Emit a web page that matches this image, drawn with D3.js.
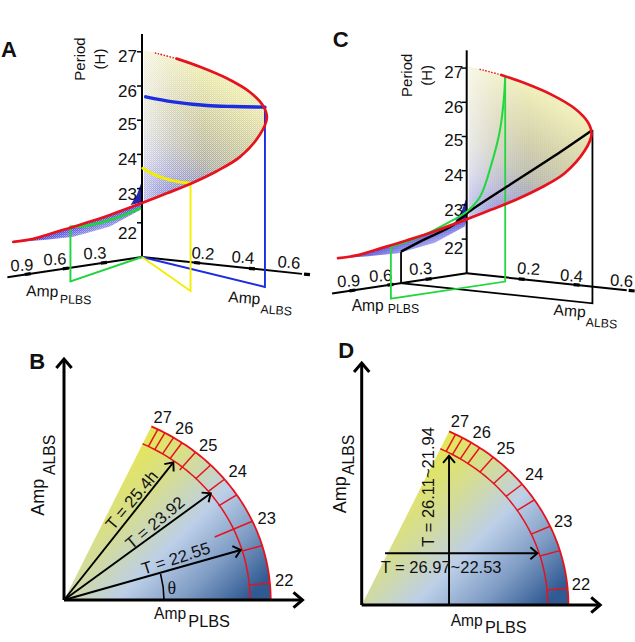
<!DOCTYPE html>
<html><head><meta charset="utf-8">
<script src="https://cdnjs.cloudflare.com/ajax/libs/d3/7.8.5/d3.min.js"></script>
<style>html,body{margin:0;padding:0;background:#fff}svg{display:block}text{font-family:"Liberation Sans",Arial,sans-serif;fill:#111}</style>
</head><body><script>
// ---------- data ----------
const periodTicks=[22,23,24,25,26,27];
const albsTicks=[0.2,0.4,0.6];
const plbsTicks=[0.3,0.6,0.9];
// red limit cycle edge of the surface
const redPlbs=[1.05,1.04,1.02,1.0,.98,.95,.92,.89,.82,.74,.65,.55,.50,.42,.32,.22,.13,.06,.03];
const redAlbs=[.017,.085,.161,.248,.336,.439,.515,.592,.650,.698,.729,.708,.672,.587,.456,.312,.186,.087,.055];
const redPeriod=[22.04,22.18,22.44,22.74,23.06,23.48,23.81,24.155,24.515,24.93,25.56,25.97,26.26,26.55,26.79,26.95,27.03,27.05,27.04];
// lower edge of the surface
const lowerPlbs=[.777,.541,.252,.016];
const lowerPeriod=[21.93,21.89,22.03,22.38];
// dark tip by the axis
const tipPlbs=[.09,.04,.01,0,0];
const tipPeriod=[22.57,22.84,23.13,23.2,22.6];
// panel A: constant-angle sections: foot on the floor, radius, period
const blueFoot=[.526,.69], blueR=[.03,.254,.526,.742,1], blueT=[25.71,25.76,25.89,26.05,26.26];
const yellowFoot=[.891,.588], yellowR=[.014,.303,.645,1], yellowT=[23.61,23.68,23.87,24.155];
const greenFoot=[.99,.197], greenR=[.028,.401,.727,1], greenT=[22.44,22.40,22.45,22.6];
// panel C: constant-amplitude sections
const blackPlbs=.517, blackAlbs=[0,.069,.19,.239,.384,.554,.696], blackT=[21.92,22.27,22.86,23.24,24.14,25.17,26.07];
const cGreenAlbs=.2, cGreenPlbs=[1.03,.80,.539,.433,.328,.236,.171,.139,.13], cGreenT=[22.52,22.68,23.03,23.21,23.59,24.52,25.45,26.41,26.99];
// polar panels
const spokeAngle=[5,16.5,24.3,33.3,39.1,44.8,50.5,55.2,58,60.8,63];
const polarLabels=["27","26","25","24","23","22"];
const innerAmp=.9, wedgeAngle=65;
const bArrows=[[.529,.719],[.71,.557],[.855,.261]];
const bTexts=["T = 25.4h","T = 23.92","T = 22.55"];
const dTexts=["T = 26.11~21.94","T = 26.97~22.53"];
const dVertical=[.4225,.779], dHorizLeft=[.113,.27], dHorizRight=[.85,.27];

// ---------- layout ----------
const W=635,H=642;
const svg=d3.select("body").append("svg").attr("width",W).attr("height",H);
const defs=svg.append("defs");
const RED="#e6121e";
function grad(id,v,stops){const g=defs.append("linearGradient").attr("id",id).attr("gradientUnits","userSpaceOnUse")
 .attr("x1",v[0]).attr("y1",v[1]).attr("x2",v[2]).attr("y2",v[3]);
 stops.forEach(s=>g.append("stop").attr("offset",s[0]).attr("stop-color",s[1]).attr("stop-opacity",s[2]===undefined?1:s[2]));}
grad("cloud",[-12,-57,78,-202],[[0,"#24249c"],[.13,"#3a40b8"],[.27,"#8888ba"],[.42,"#aeae9e"],[.62,"#cac798"],[.85,"#e9e7a6"],[1,"#f5f3bc"]]);
grad("fade",[0,0,62,0],[[0,"#fff",.72],[.5,"#fff",.3],[1,"#fff",0]]);
grad("lowerCloud",[-65,-36,-57,-13],[[0,"#2828d0"],[.45,"#7676e2"],[1,"#cfd0f8"]]);
grad("wedge",[69.3,-146.7,199.3,-16.7],[[0,"#e4e65a"],[.25,"#d4dc98"],[.5,"#bccfe8"],[.75,"#7f9cc4"],[1,"#2f5a92"]]);
const st=defs.append("pattern").attr("id","stipple").attr("patternUnits","userSpaceOnUse").attr("width",2).attr("height",2);
st.append("rect").attr("width",1).attr("height",1).attr("fill","#fff").attr("opacity",.55);
st.append("rect").attr("x",1).attr("y",1).attr("width",1).attr("height",1).attr("fill","#fff").attr("opacity",.3);

// 3-D projection scales (shared by A and C)
const aX=d3.scaleLinear().domain([0,1]).range([0,275]), aY=d3.scaleLinear().domain([0,1]).range([0,29]);
const pX=d3.scaleLinear().domain([0,1]).range([0,-127]), pY=d3.scaleLinear().domain([0,1]).range([0,19]);
const tY=d3.scaleLinear().domain([21,28]).range([0,-239.4]);
const proj=(p,a,t)=>[aX(a)+pX(p),aY(a)+pY(p)+tY(t)];
const curve=d3.line().curve(d3.curveCatmullRom.alpha(.5));
const poly=d3.line().curve(d3.curveLinear);

function sub(g,x,y,main,subt,fs,ss,bx,by,rot){
 const t=g.append("g").attr("transform",`translate(${x},${y}) rotate(${rot||0})`);
 t.append("text").attr("font-size",fs).text(main);
 t.append("text").attr("x",bx).attr("y",by).attr("font-size",ss).text(subt);
}
const redIdx=d3.range(redPlbs.length);
const redPts=redIdx.map(i=>proj(redPlbs[i],redAlbs[i],redPeriod[i]));

function panel3D(ox,oy,L,draw){
 const g=svg.append("g").attr("transform",`translate(${ox},${oy})`);
 // surface upper
 const upper=redIdx.slice(5).map(i=>redPts[i]);
 const spine=[proj(0,.008,27.04),proj(0,.008,23.5)];
 const smoothEdge=curve(upper);
 const surfD=smoothEdge+"L"+spine[0]+"L"+spine[1]+"L"+proj(0,.008,22.6)+"Z";
 g.append("path").attr("d",surfD).attr("fill","url(#cloud)");
 g.append("path").attr("d",surfD).attr("fill","url(#fade)");
 g.append("path").attr("d",surfD).attr("fill","url(#stipple)");
 // surface lower
 const lowerD=curve(redIdx.slice(0,6).map(i=>redPts[i]))+"L"+lowerPlbs.map((_,i)=>proj(lowerPlbs[3-i],0,lowerPeriod[3-i])).join("L")+"Z";
 g.append("path").attr("d",lowerD).attr("fill","url(#lowerCloud)");
 g.append("path").attr("d",lowerD).attr("fill","url(#stipple)").attr("opacity",.8);
 g.append("path").attr("d",poly(tipPlbs.map((p,i)=>proj(p,0,tipPeriod[i])))+"Z").attr("fill","#2525b0");
 // period axis
 g.append("line").attr("x1",0).attr("y1",0).attr("x2",0).attr("y2",tY(27.52)).attr("stroke","#000").attr("stroke-width",2);
 g.selectAll(".t").data(periodTicks).join("line").attr("x1",-5).attr("x2",0).attr("y1",d=>tY(d)).attr("y2",d=>tY(d)).attr("stroke","#000").attr("stroke-width",1.5);
 g.selectAll(".l").data(periodTicks).join("text").attr("x",L.tx).attr("y",d=>tY(d)+L.ty[d-22]+6).attr("text-anchor","end").attr("font-size",17).text(d=>d);
 // floor axes
 g.append("line").attr("x2",aX(.582)).attr("y2",aY(.582)).attr("stroke","#000").attr("stroke-width",2);
 g.append("line").attr("x2",pX(1.06)).attr("y2",pY(1.06)).attr("stroke","#000").attr("stroke-width",2);
 g.selectAll(".at").data(albsTicks).join("line").attr("x1",d=>aX(d)-3).attr("x2",d=>aX(d)+3).attr("y1",d=>aY(d)-.3).attr("y2",d=>aY(d)+.3).attr("stroke","#000").attr("stroke-width",3.2);
 g.selectAll(".pt").data(plbsTicks).join("line").attr("x1",d=>pX(d)-3).attr("x2",d=>pX(d)+3).attr("y1",d=>pY(d)+.4).attr("y2",d=>pY(d)-.4).attr("stroke","#000").attr("stroke-width",3.2);
 albsTicks.forEach((d,i)=>g.append("text").attr("transform",`translate(${L.al[i]}) rotate(4)`).attr("text-anchor","middle").attr("y",6).attr("font-size",16.5).text(d.toFixed(1)));
 plbsTicks.forEach((d,i)=>g.append("text").attr("transform",`translate(${L.pl[i]}) rotate(-3)`).attr("text-anchor","middle").attr("y",6).attr("font-size",16.5).text(d.toFixed(1)));
 // titles
 g.append("text").attr("transform",`translate(${L.per[0]}) rotate(-90)`).attr("text-anchor","middle").attr("font-size",15).attr("y",5).text("Period");
 g.append("text").attr("transform",`translate(${L.per[1]}) rotate(-90)`).attr("text-anchor","middle").attr("font-size",15).attr("y",5).text("(H)");
 sub(g,L.ap[0],L.ap[1],"Amp","PLBS",15.6,12.3,L.ap[2],L.ap[3],L.ap[4]);
 sub(g,L.aa[0],L.aa[1],"Amp","ALBS",15.6,12.3,33,9,4);
 draw(g);
 // red edge
 g.append("path").attr("d",curve(redIdx.slice(0,17).map(i=>redPts[i]))).attr("fill","none").attr("stroke",RED).attr("stroke-width",2.7).attr("stroke-linecap","round");
 g.append("path").attr("d",curve(redIdx.slice(16).map(i=>redPts[i]))).attr("fill","none").attr("stroke",RED).attr("stroke-width",1.4).attr("stroke-dasharray","1.5 1.5");
}
function section(g,foot,rs,ts,color,w){
 const pts=rs.map((r,i)=>proj(foot[0]*r,foot[1]*r,ts[i]));
 const last=pts[pts.length-1];
 const f=proj(foot[0],foot[1],21);
 g.append("path").attr("d",poly([[0,0],f,last])).attr("fill","none").attr("stroke",color).attr("stroke-width",1.9);
 g.append("path").attr("d",curve(pts)).attr("fill","none").attr("stroke",color).attr("stroke-width",w).attr("stroke-linecap","round");
}
// Panel A
panel3D(142,257,{tx:-5,ty:[10,5.5,4.5,4,5,4],al:[[61,-4],[101,0],[147,5]],pl:[[-47,-4],[-87,2],[-120,8]],
 per:[[-62,-198],[-42,-198]],ap:[-116,39,34,6,2],aa:[86,45]},g=>{
 section(g,blueFoot,blueR,blueT,"#1c2ce0",3.4);
 section(g,yellowFoot,yellowR,yellowT,"#f2ee00",2.8);
 section(g,greenFoot,greenR,greenT,"#22d23e",2.8);
});
// Panel C
panel3D(466.7,273.3,{tx:-3.5,ty:[9,5,4,3.6,4.3,3.4],al:[[62,-5],[105,2],[155,7]],pl:[[-46,-5],[-86,2],[-118,7.4]],
 per:[[-60,-198],[-39.4,-198]],ap:[-115,37.4,36,2.6,0],aa:[86.6,41.7]},g=>{
 // black section at constant PLBS
 const bk=blackAlbs.map((a,i)=>proj(blackPlbs,a,blackT[i]));
 g.append("path").attr("d",poly([bk[0],proj(blackPlbs,0,21),proj(blackPlbs,blackAlbs[6],21),bk[6]])).attr("fill","none").attr("stroke","#000").attr("stroke-width",1.8);
 // green section at constant ALBS
 const gr=cGreenPlbs.map((p,i)=>proj(p,cGreenAlbs,cGreenT[i]));
 g.append("path").attr("d",poly([gr[0],proj(cGreenPlbs[0],cGreenAlbs,21),proj(cGreenPlbs[8],cGreenAlbs,21),gr[8]])).attr("fill","none").attr("stroke","#22d83e").attr("stroke-width",1.8);
 g.append("path").attr("d",curve(bk)).attr("fill","none").attr("stroke","#000").attr("stroke-width",2.4);
 g.append("path").attr("d",curve(gr)).attr("fill","none").attr("stroke","#22d83e").attr("stroke-width",2.1);
});

// polar panels
const rx=d3.scaleLinear().domain([0,1]).range([0,206.7]), ry=d3.scaleLinear().domain([0,1]).range([0,-191.5]);
const rad=d=>d*Math.PI/180;
const ell=(r,t)=>[rx(r*Math.cos(rad(t))),ry(r*Math.sin(rad(t)))];
const angles=d3.range(0,wedgeAngle+.5,1);
function arrowHead(g,x,y,ang,s,w){
 const h=g.append("g").attr("transform",`translate(${x},${y}) rotate(${ang})`);
 h.append("path").attr("d",poly([[-s,-s*.85],[0,0],[-s,s*.85]])).attr("fill","none").attr("stroke","#000").attr("stroke-width",w).attr("stroke-linejoin","miter");
}
function arrow(g,x0,y0,x1,y1,s,w){
 g.append("line").attr("x1",x0).attr("y1",y0).attr("x2",x1).attr("y2",y1).attr("stroke","#000").attr("stroke-width",w);
 arrowHead(g,x1,y1,Math.atan2(y1-y0,x1-x0)*180/Math.PI,s,w);
}
function polar(ox,oy,L,over,draw){
 const g=svg.append("g").attr("transform",`translate(${ox},${oy})`);
 const wedgePts=[[0,0]].concat(angles.map(t=>ell(1,t)));
 g.append("path").attr("d",poly(wedgePts)+"Z").attr("fill","url(#wedge)");
 const arc=r=>poly(angles.map(t=>ell(r,t)));
 g.append("path").attr("d",arc(1)).attr("fill","none").attr("stroke",RED).attr("stroke-width",1.8);
 g.append("path").attr("d",arc(innerAmp)).attr("fill","none").attr("stroke",RED).attr("stroke-width",1.5);
 spokeAngle.forEach((t,i)=>{const a=ell(innerAmp-(over?over[i]:0),t),b=ell(1,t);
  g.append("line").attr("x1",a[0]).attr("y1",a[1]).attr("x2",b[0]).attr("y2",b[1]).attr("stroke",RED).attr("stroke-width",1.5);});
 arrow(g,0,0,L.xEnd,0,9,3); arrow(g,0,0,0,L.yEnd,9,3);
 polarLabels.forEach((d,i)=>g.append("text").attr("x",L.lab[i][0]).attr("y",L.lab[i][1]+5.8).attr("text-anchor","middle").attr("font-size",16.5).text(d));
 sub(g,L.xl[0],L.xl[1],"Amp","PLBS",15.6,16.3,L.xl[2],L.xl[3]);
 g.append("g").attr("transform",`translate(${L.yl[0]},${L.yl[1]}) rotate(-90)`).call(t=>{
  t.append("text").attr("font-size",18).text("Amp");
  t.append("text").attr("x",L.yl[2]).attr("y",L.yl[3]).attr("font-size",15.8).text("ALBS");});
 draw(g);
}
polar(64,600,{xEnd:238.5,yEnd:-241,lab:[[98.7,-183],[120.3,-172],[144.3,-155],[173.7,-129],[202.7,-82.3],[220.3,-20]],
 xl:[90,19.3,34.3,7.4],yl:[-19.7,-84.3,40.7,10.7]},[0,0,.1,.005,0,0,.02,0,0,0,0],g=>{
 bArrows.forEach(d=>arrow(g,0,0,rx(d[0]),ry(d[1]),7,1.9));
 g.append("path").attr("d",d3.arc()({innerRadius:100,outerRadius:100,startAngle:rad(90),endAngle:rad(75)})).attr("fill","none").attr("stroke","#000").attr("stroke-width",1.6);
 g.append("text").attr("x",107.7).attr("y",-6).attr("text-anchor","middle").attr("font-size",18).style("font-family","'Liberation Serif',serif").text("θ");
 [[67.7,-100,-50],[91,-77.3,-40],[111.7,-41.7,-18]].forEach((p,i)=>g.append("text").attr("transform",`translate(${p[0]},${p[1]}) rotate(${p[2]})`).attr("text-anchor","middle").attr("y",5.8).attr("font-size",16.8).text(bTexts[i]));
});
polar(361.7,605,{xEnd:238.5,yEnd:-242,lab:[[98.3,-184],[120,-173.3],[144,-156.7],[172.6,-131],[201.6,-84.3],[219.3,-20.7]],
 xl:[89,20.7,34.3,7],yl:[-15.7,-91.7,38.3,8]},null,g=>{
 arrow(g,rx(dVertical[0]),0,rx(dVertical[0]),ry(dVertical[1]),7,1.9);
 arrow(g,rx(dHorizLeft[0]),ry(dHorizLeft[1]),rx(dHorizRight[0]),ry(dHorizRight[1]),7,1.9);
 g.append("text").attr("transform","translate(72.6,-58.3) rotate(-90)").attr("font-size",16.5).text(dTexts[0]);
 g.append("text").attr("x",19).attr("y",-32.3).attr("font-size",16.5).text(dTexts[1]);
});
// panel letters
[["A",1,56.7],["B",29.3,369.3],["C",332.7,47.3],["D",338.3,358.3]].forEach(d=>
 svg.append("text").attr("x",d[1]).attr("y",d[2]).attr("font-size",22).attr("font-weight","bold").text(d[0]));
</script></body></html>
